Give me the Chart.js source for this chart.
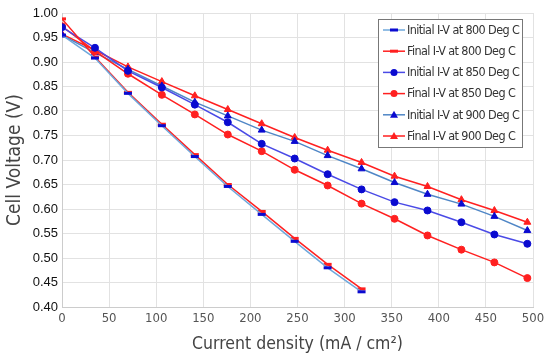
<!DOCTYPE html>
<html><head><meta charset="utf-8">
<script src="https://cdn.jsdelivr.net/npm/chart.js@4/dist/chart.umd.min.js"></script>
<style>html,body{margin:0;padding:0;background:#fff}#w{width:550px;height:359px}</style>
</head><body><div id="w"><canvas id="c"></canvas></div>
<script>
const currentDensity = [0,35,70,106,141,176,212,247,282,318,353,388,424,459,494];
const init800  = [0.955,0.908,0.836,0.770,0.707,0.646,0.589,0.534,0.480,0.431];
const final800 = [0.988,0.910,0.838,0.773,0.711,0.650,0.595,0.540,0.487,0.437];
const init850  = [0.971,0.929,0.882,0.848,0.813,0.777,0.733,0.703,0.671,0.640,0.614,0.597,0.573,0.548,0.529];
const final850 = [0.973,0.922,0.876,0.833,0.793,0.752,0.718,0.680,0.648,0.611,0.580,0.546,0.517,0.491,0.459];
const init900  = [0.955,0.919,0.885,0.851,0.818,0.790,0.761,0.738,0.709,0.682,0.654,0.630,0.610,0.585,0.556];
const final900 = [0.957,0.924,0.890,0.860,0.831,0.803,0.774,0.746,0.720,0.695,0.667,0.646,0.619,0.597,0.573];
const seriesLabels = ['Initial I-V at 800 Deg C','Final I-V at 800 Deg C','Initial I-V at 850 Deg C','Final I-V at 850 Deg C','Initial I-V at 900 Deg C','Final I-V at 900 Deg C'];

const toXY = arr => arr.map((v,i)=>({x:currentDensity[i], y:v}));
const BLUE='#0a0ad0', RED='#ff2020';
const styles = [
  {line:'#6fa8dc', mk:BLUE, ps:'line'},
  {line:RED, mk:RED, ps:'line'},
  {line:'#4a4ae6', mk:BLUE, ps:'circle'},
  {line:RED, mk:RED, ps:'circle'},
  {line:'#4f86c6', mk:BLUE, ps:'triangle'},
  {line:RED, mk:RED, ps:'triangle'}
];
const all = [init800, final800, init850, final850, init900, final900];
const datasets = all.map((arr,i)=>{
  const s = styles[i];
  return {
    label: seriesLabels[i], data: toXY(arr),
    borderColor: s.line, borderWidth: 1.5,
    pointStyle: s.ps,
    pointRadius: s.ps==='circle'?3.5:4,
    pointBorderColor: s.mk, pointBackgroundColor: s.mk,
    pointBorderWidth: s.ps==='line'?3:1,
    tension: 0, fill:false
  };
});

function drawMarker(ctx, ps, x, y, color){
  ctx.save(); ctx.fillStyle=color; ctx.strokeStyle=color;
  if(ps==='line'){ ctx.lineWidth=3; ctx.beginPath(); ctx.moveTo(x-4,y); ctx.lineTo(x+4,y); ctx.stroke(); }
  else if(ps==='circle'){ ctx.beginPath(); ctx.arc(x,y,3.5,0,Math.PI*2); ctx.fill(); }
  else { ctx.beginPath(); ctx.moveTo(x,y-4); ctx.lineTo(x+4,y+3); ctx.lineTo(x-4,y+3); ctx.closePath(); ctx.fill(); }
  ctx.restore();
}
const boxLegend = {
  id:'boxLegend',
  afterDraw(chart){
    const ctx = chart.ctx;
    const L=378, T=19, W=144, H=128;
    ctx.save();
    ctx.fillStyle='#fff'; ctx.fillRect(L,T,W,H);
    ctx.strokeStyle='#777'; ctx.lineWidth=1; ctx.strokeRect(L+0.5,T+0.5,W,H);
    ctx.font='12.5px "DejaVu Sans Condensed"'; ctx.textBaseline='middle'; ctx.fillStyle='#333';
    try{ ctx.letterSpacing='-0.6px'; }catch(e){}
    chart.data.datasets.forEach((d,i)=>{
      const y = T+11+i*21.2;
      ctx.strokeStyle=styles[i].line; ctx.lineWidth=1.5;
      ctx.beginPath(); ctx.moveTo(L+5,y); ctx.lineTo(L+27,y); ctx.stroke();
      drawMarker(ctx, styles[i].ps, L+16, y, styles[i].mk);
      ctx.fillStyle='#333';
      ctx.fillText(d.label, L+29, y+0.5);
    });
    ctx.restore();
  }
};

new Chart(document.getElementById('c'), {
  type:'line',
  data:{datasets},
  plugins:[boxLegend],
  options:{
    responsive:true, maintainAspectRatio:false, animation:false,
    layout:{padding:{top:13,right:17,left:0,bottom:0}},
    plugins:{legend:{display:false}, tooltip:{enabled:false}},
    scales:{
      x:{type:'linear', min:0, max:500,
        ticks:{stepSize:50, color:'#555', font:{family:'"DejaVu Sans Condensed"', size:13}, padding:4},
        grid:{color:'#e2e2e2', drawTicks:false},
        border:{color:'#ccc'},
        title:{display:true, text:'Current density (mA / cm²)', color:'#444', font:{family:'"DejaVu Sans Condensed"', size:17.5}, padding:{top:8}},
        afterFit(s){ s.height = 52; }
      },
      y:{min:0.4, max:1.0,
        ticks:{stepSize:0.05, color:'#111', font:{family:'"Liberation Sans"', size:13}, padding:4, callback:v=>v.toFixed(2)},
        grid:{color:'#e2e2e2', drawTicks:false},
        border:{color:'#ccc'},
        title:{display:true, text:'Cell Voltage (V)', color:'#444', font:{family:'"DejaVu Sans Condensed"', size:19}},
        afterFit(s){ s.width = 62; }
      }
    }
  }
});
</script></body></html>
